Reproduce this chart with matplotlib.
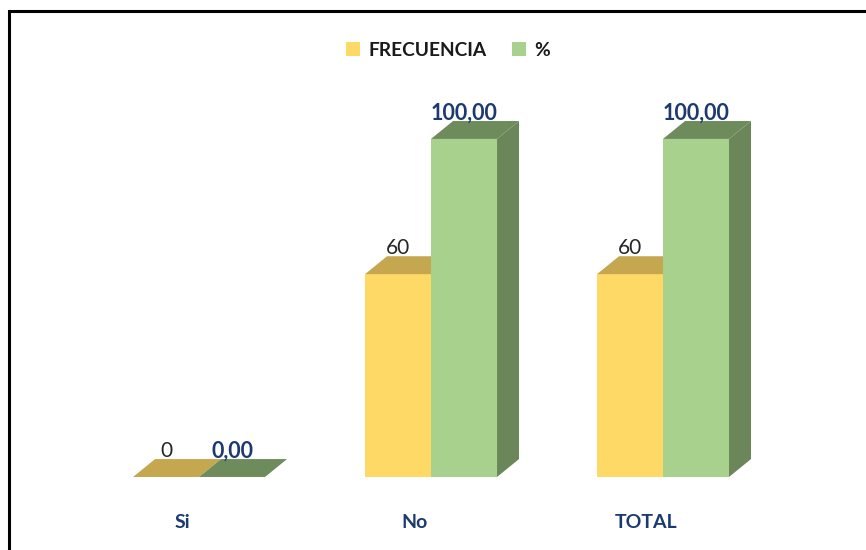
import matplotlib
matplotlib.use("Agg")
import matplotlib.pyplot as plt
from matplotlib.patches import Polygon, Rectangle, Patch

categories = ["Si", "No", "TOTAL"]
frecuencia = [0, 60, 60]
porcentaje = [0.00, 100.00, 100.00]
series_names = ["FRECUENCIA", "%"]

plt.rcParams['font.family'] = ['Lato', 'DejaVu Sans']

fig = plt.figure(figsize=(8.66, 5.5), dpi=100)
ax = fig.add_axes([0, 0, 1, 1])
ax.set_xlim(-0.858, 2.875)
ax.set_ylim(-21.6, 141.1)
ax.axis('off')

width = 0.2845
dx = 0.0948
dy = 5.3
navy = "#1C3A70"

styles = [
    dict(front="#FFD966", top="#C4A74F", side="#B8983E"),
    dict(front="#A9D18E", top="#6E8C5B", side="#6B8759"),
]

def fmt_pct(v):
    return f"{v:.2f}".replace(".", ",")

for s, (vals, st) in enumerate(zip([frecuencia, porcentaje], styles)):
    for i, v in enumerate(vals):
        x0 = i - width + s * width
        x1 = x0 + width
        ax.bar(x0, v, width=width, align='edge', color=st["front"], edgecolor='none', zorder=2 + s)
        top = Polygon([(x0, v), (x1, v), (x1 + dx, v + dy), (x0 + dx, v + dy)],
                      closed=True, facecolor=st["top"], edgecolor='none', zorder=2 + s)
        ax.add_patch(top)
        side = Polygon([(x1, 0), (x1 + dx, dy), (x1 + dx, v + dy), (x1, v)],
                       closed=True, facecolor=st["side"], edgecolor='none', zorder=1 + s)
        ax.add_patch(side)
        cx = (x0 + x1) / 2
        if s == 0:
            ax.text(cx, v + 7.7, f"{v:d}", ha='center', va='center', fontsize=15,
                    color="#262626", zorder=10)
        else:
            ax.text(cx, v + 7.7, fmt_pct(v), ha='center', va='center', fontsize=15.5,
                    color=navy, fontweight='bold', zorder=10)

for i, c in enumerate(categories):
    ax.text(i - 0.073, -13.6, c, ha='center', va='center', fontsize=14,
            color=navy, fontweight='bold')

handles = [Patch(facecolor=styles[0]["front"], edgecolor='none'),
           Patch(facecolor=styles[1]["front"], edgecolor='none')]
leg = fig.legend(handles, series_names, loc='center', bbox_to_anchor=(448 / 866, 1 - 50 / 550),
                 ncol=2, frameon=False, fontsize=13.8, handlelength=0.75, handleheight=0.75,
                 handletextpad=0.45, columnspacing=1.3)
for t in leg.get_texts():
    t.set_fontweight('bold')
    t.set_color('#1a1a1a')

fig.patches.append(Rectangle((9 / 866, -0.1), 1.2, 1.1 - 11 / 550, fill=False,
                             edgecolor='black', linewidth=2.2, transform=fig.transFigure,
                             figure=fig))

fig.savefig("out.png", dpi=100)
